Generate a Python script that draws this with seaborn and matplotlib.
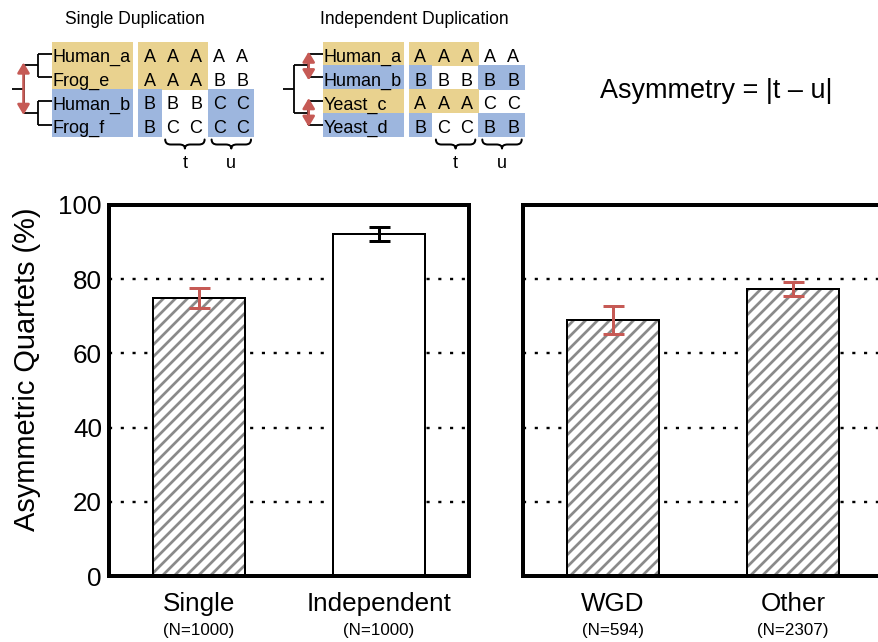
import numpy as np
import matplotlib
matplotlib.use("Agg")
import matplotlib.pyplot as plt
from matplotlib.patches import Rectangle, PathPatch
from matplotlib.path import Path
from matplotlib.collections import LineCollection
from matplotlib.transforms import IdentityTransform
import pandas as pd
import seaborn as sns

# ---- bar data -------------------------------------------------------------
left_groups = ["Single", "Independent"]
left_pct = [74.9, 92.2]
left_err = [2.7, 1.8]
left_n = ["(N=1000)", "(N=1000)"]
left_hatched = [True, False]
left_errkind = ["red", "black"]

right_groups = ["WGD", "Other"]
right_pct = [69.0, 77.4]
right_err = [3.8, 1.8]
right_n = ["(N=594)", "(N=2307)"]
right_hatched = [True, True]
right_errkind = ["red", "red"]

y_ticks = [0, 20, 40, 60, 80, 100]
y_label = "Asymmetric Quartets (%)"

# ---- schematic quartets ---------------------------------------------------
single_title = "Single Duplication"
single_names = ["Human_a", "Frog_e", "Human_b", "Frog_f"]
single_name_shade = ["Y", "Y", "B", "B"]
single_seqs = ["AAAAA", "AAABB", "BBBCC", "BCCCC"]
single_seq_shade = ["YYY..", "YYY..", "B..BB", "B..BB"]

indep_title = "Independent Duplication"
indep_names = ["Human_a", "Human_b", "Yeast_c", "Yeast_d"]
indep_name_shade = ["Y", "B", "Y", "B"]
indep_seqs = ["AAAAA", "BBBBB", "AAACC", "BCCBB"]
indep_seq_shade = ["YYY..", "B..BB", "YYY..", "B..BB"]

formula = "Asymmetry = |t \u2013 u|"

# ---- style ----------------------------------------------------------------
YELLOW = "#E9D28F"
BLUE = "#9DB6DE"
RED = "#C65A55"
HATCH_GRAY = "#8A8A8A"
ERR_COLORS = {"red": RED, "black": "black"}

W, H, DPI = 878, 642, 72
sns.set_theme(style="white")
plt.rcParams["font.family"] = ["Liberation Sans", "DejaVu Sans"]
plt.rcParams["text.color"] = "black"

fig = plt.figure(figsize=(W / DPI, H / DPI), dpi=DPI)
fig.patch.set_facecolor("white")


def px_axes(left, top, right, bottom):
    return fig.add_axes([left / W, 1 - bottom / H, (right - left) / W, (bottom - top) / H])


def stripe(ax, patch, spacing=12.0, lw=2.7):
    """Diagonal gray stripes clipped to a bar."""
    bb = patch.get_window_extent()
    x0, y0, x1, y1 = bb.x0, bb.y0, bb.x1, bb.y1
    c = np.floor((y0 - x1) / spacing) * spacing
    segs = []
    while c < y1 - x0 + spacing:
        segs.append([(x0 - 10, x0 - 10 + c), (x1 + 10, x1 + 10 + c)])
        c += spacing
    lc = LineCollection(segs, colors=HATCH_GRAY, linewidths=lw,
                        transform=IdentityTransform(), zorder=patch.get_zorder() + 0.05)
    ax.add_collection(lc, autolim=False)
    lc.set_clip_path(patch.get_path(), patch.get_transform())


def draw_panel(ax, groups, pct, err, nlabels, hatched, errkind, show_y):
    df = pd.DataFrame({"group": groups, "pct": pct})
    sns.barplot(data=df, x="group", y="pct", ax=ax, color="white", saturation=1,
                width=0.51, errorbar=None, edgecolor="black", linewidth=2)
    ax.set_xlim(-0.5, 1.5)
    ax.set_ylim(0, 100)
    for patch, h in zip(list(ax.patches), hatched):
        if h:
            patch.set_linewidth(0)
            stripe(ax, patch)
            ax.add_patch(Rectangle(patch.get_xy(), patch.get_width(), patch.get_height(),
                                   fill=False, edgecolor="black", lw=2,
                                   zorder=patch.get_zorder() + 0.1))
    for i, (m, e, k) in enumerate(zip(pct, err, errkind)):
        ax.errorbar(i, m, yerr=e, fmt="none", ecolor=ERR_COLORS[k], elinewidth=3,
                    capsize=10.5, capthick=3, zorder=4)
    ax.set_yticks(y_ticks)
    ax.set_xlabel("")
    ax.set_ylabel("")
    ax.tick_params(axis="both", length=0, labelcolor="black")
    ax.tick_params(axis="x", labelsize=26, pad=16)
    ax.tick_params(axis="y", labelsize=26, pad=7, labelleft=show_y)
    ax.yaxis.grid(True, color="black", linewidth=2.4, linestyle=(0, (1.3, 3.6)))
    ax.xaxis.grid(False)
    ax.set_axisbelow(True)
    for s in ax.spines.values():
        s.set_visible(True)
        s.set_linewidth(4)
        s.set_color("black")
    for i, n in enumerate(nlabels):
        ax.text(i, -0.148, n, transform=ax.get_xaxis_transform(),
                ha="center", va="center", fontsize=17)


ax1 = px_axes(109, 205, 469, 576)
ax2 = px_axes(523, 205, 883, 576)
draw_panel(ax1, left_groups, left_pct, left_err, left_n, left_hatched, left_errkind, True)
draw_panel(ax2, right_groups, right_pct, right_err, right_n, right_hatched, right_errkind, False)

fig.text(27 / W, 1 - 369 / H, y_label, rotation=90, ha="center", va="center", fontsize=29)

# ---- schematic overlay (pixel coordinates) --------------------------------
ov = fig.add_axes([0, 0, 1, 1])
ov.set_xlim(0, W)
ov.set_ylim(H, 0)
ov.axis("off")

ROW_H = 23.75
CELL_W = 23.2
NAME_W = 81
GAP = 5
TOP = 41.7
SHADE = {"Y": YELLOW, "B": BLUE}


def brace(x_a, x_b, y_top=139.5, y_mid=144.5, y_tip=148.5, r=5.5):
    m = (x_a + x_b) / 2
    verts = [(x_a, y_top), (x_a, y_mid), (x_a + r, y_mid), (m - r, y_mid),
             (m, y_mid), (m, y_tip), (m, y_mid), (m + r, y_mid),
             (x_b - r, y_mid), (x_b, y_mid), (x_b, y_top)]
    codes = [Path.MOVETO, Path.CURVE3, Path.CURVE3, Path.LINETO,
             Path.CURVE3, Path.CURVE3, Path.CURVE3, Path.CURVE3,
             Path.LINETO, Path.CURVE3, Path.CURVE3]
    ov.add_patch(PathPatch(Path(verts, codes), fill=False, edgecolor="black", lw=2,
                           capstyle="round", joinstyle="round"))


def red_arrow(x, y1, y2):
    ov.annotate("", xy=(x, y1), xytext=(x, y2),
                arrowprops=dict(arrowstyle="<|-|>,head_length=0.42,head_width=0.25",
                                color=RED, lw=2.6, mutation_scale=20,
                                shrinkA=0, shrinkB=0))


def draw_quartet(x0, title, title_x, names, name_shade, seqs, seq_shade, root_arrow):
    aln_x = x0 + NAME_W + GAP
    ov.text(title_x, 24.5, title, ha="center", va="baseline", fontsize=17.5)
    for r, (name, ns, seq, ss) in enumerate(zip(names, name_shade, seqs, seq_shade)):
        y = TOP + r * ROW_H
        ov.add_patch(Rectangle((x0, y), NAME_W, ROW_H + 0.4, facecolor=SHADE[ns],
                               edgecolor="none"))
        ov.text(x0 + 1, y + ROW_H - 3.5, name, ha="left", va="baseline", fontsize=18)
        for c, (ch, sc) in enumerate(zip(seq, ss)):
            cx = aln_x + c * CELL_W
            if sc in SHADE:
                ov.add_patch(Rectangle((cx, y), CELL_W + 0.4, ROW_H + 0.4,
                                       facecolor=SHADE[sc], edgecolor="none"))
            ov.text(cx + CELL_W / 2, y + ROW_H - 3.5, ch, ha="center",
                    va="baseline", fontsize=18)
    # tree
    ymid = [TOP + (r + 0.5) * ROW_H for r in range(4)]
    c1 = (ymid[0] + ymid[1]) / 2
    c2 = (ymid[2] + ymid[3]) / 2
    xr, xc = x0 - 28.5, x0 - 14.5
    kw = dict(color="black", lw=1.8, solid_capstyle="butt")
    ov.plot([x0 - 40, xr], [(c1 + c2) / 2] * 2, **kw)
    ov.plot([xr, xr], [c1, c2], **kw)
    for cy, (ya, yb) in ((c1, (ymid[0], ymid[1])), (c2, (ymid[2], ymid[3]))):
        ov.plot([xr, xc], [cy, cy], **kw)
        ov.plot([xc, xc], [ya, yb], **kw)
        ov.plot([xc, x0], [ya, ya], **kw)
        ov.plot([xc, x0], [yb, yb], **kw)
    if root_arrow:
        red_arrow(xr, c1 - 3, c2 + 2)
    else:
        red_arrow(xc + 0.5, ymid[0] - 2, ymid[1] + 3)
        red_arrow(xc + 0.5, ymid[2] - 3, ymid[3] + 2)
    # braces for t and u
    t_a, t_b = aln_x + CELL_W + 4, aln_x + 3 * CELL_W - 3
    u_a, u_b = aln_x + 3 * CELL_W + 4, aln_x + 5 * CELL_W - 3
    brace(t_a, t_b)
    brace(u_a, u_b)
    ov.text((t_a + t_b) / 2, 168, "t", ha="center", va="baseline", fontsize=18)
    ov.text((u_a + u_b) / 2, 168, "u", ha="center", va="baseline", fontsize=18)


draw_quartet(52, single_title, 134.5, single_names, single_name_shade, single_seqs,
             single_seq_shade, True)
draw_quartet(322.7, indep_title, 414, indep_names, indep_name_shade, indep_seqs,
             indep_seq_shade, False)

ov.text(716, 98, formula, ha="center", va="baseline", fontsize=27)

fig.savefig("out.png", dpi=DPI)
